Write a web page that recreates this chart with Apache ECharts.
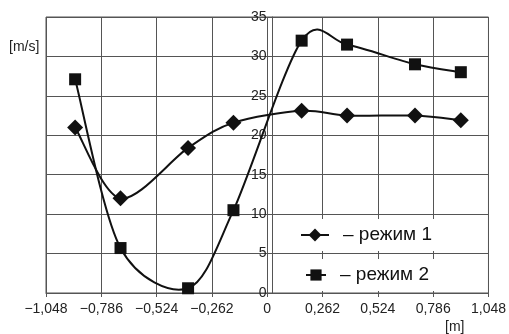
<!DOCTYPE html>
<html>
<head>
<meta charset="utf-8">
<script src="https://cdn.jsdelivr.net/npm/echarts@6/dist/echarts.min.js"></script>
<style>
  html, body { margin: 0; padding: 0; background: #fff; }
  #chart { width: 509px; height: 334px; }
</style>
</head>
<body>
<div id="chart"></div>
<script>
    // positions along the axis [m]
    var xPos = [-0.91, -0.695, -0.375, -0.16, 0.163, 0.378, 0.70, 0.917];
    // speed [m/s]
    var mode1 = [21.0, 12.0, 18.4, 21.6, 23.1, 22.5, 22.5, 21.9];
    var mode2 = [27.1, 5.7, 0.6, 10.5, 32.0, 31.5, 29.0, 28.0];
    var seriesNames = ['режим 1', 'режим 2'];

    function pairs(xs, ys) {
        var out = [];
        for (var i = 0; i < xs.length; i++) out.push([xs[i], ys[i]]);
        return out;
    }

    function fmtX(v) {
        if (Math.abs(v) < 1e-9) return '0';
        var s = Math.abs(v).toFixed(3).replace('.', ',');
        return (v < 0 ? '\u2212' : '') + s;
    }

    // spreadsheet-style smoothed line (catmull-rom through pixel coords)
    var tens = 6.5;
    function smoothCurve(ys) {
        return function (params, api) {
            if (params.dataIndex !== 0) return;
            var p = [];
            for (var i = 0; i < xPos.length; i++) p.push(api.coord([xPos[i], ys[i]]));
            var n = p.length, kids = [];
            for (var i = 0; i < n - 1; i++) {
                var a = p[Math.max(i - 1, 0)], b = p[i], c = p[i + 1], d = p[Math.min(i + 2, n - 1)];
                kids.push({
                    type: 'bezierCurve',
                    shape: {
                        x1: b[0], y1: b[1], x2: c[0], y2: c[1],
                        cpx1: b[0] + (c[0] - a[0]) / tens, cpy1: b[1] + (c[1] - a[1]) / tens,
                        cpx2: c[0] - (d[0] - b[0]) / tens, cpy2: c[1] - (d[1] - b[1]) / tens
                    },
                    style: { stroke: '#111', lineWidth: 2, fill: null }
                });
            }
            return { type: 'group', children: kids };
        };
    }

    var gridColor = '#555';
    var font = 'Liberation Sans, Arial, sans-serif';
    var gridW = 509 - 46 - 10;

    var legendBase = {
        backgroundColor: '#fff',
        padding: [6, 6, 6, 8],
        lineStyle: { opacity: 1, width: 2, color: '#111' },
        formatter: function (n) { return '\u2013 ' + n; },
        textStyle: { fontSize: 19, fontFamily: font, color: '#111', padding: [0, 0, 0, 9], lineHeight: 20 }
    };

    var myChart = echarts.init(document.getElementById('chart'));
    var option = {
        animation: false,
        backgroundColor: '#fff',
        grid: {
            left: 46, right: 10, top: 17, bottom: 41,
            show: true, borderColor: gridColor, borderWidth: 1
        },
        xAxis: {
            type: 'value',
            min: -1.048, max: 1.048, interval: 0.262,
            axisLine: { onZero: false, lineStyle: { color: gridColor } },
            axisTick: { show: true, length: 4, lineStyle: { color: gridColor } },
            splitLine: { lineStyle: { color: gridColor, width: 1 } },
            axisLabel: { formatter: fmtX, color: '#222', fontSize: 14, fontFamily: font, margin: 9 }
        },
        yAxis: {
            type: 'value',
            position: 'left',
            offset: -gridW / 2,   // axis sits at x = 0
            min: 0, max: 35, interval: 5,
            axisLine: { onZero: false, lineStyle: { color: gridColor } },
            axisTick: { show: true, length: 4, lineStyle: { color: gridColor } },
            splitLine: { lineStyle: { color: gridColor, width: 1 } },
            axisLabel: { color: '#222', fontSize: 14, fontFamily: font, margin: 6 }
        },
        legend: [
            Object.assign({ data: [seriesNames[0]], left: 292, top: 219, itemWidth: 28, itemHeight: 16 }, legendBase),
            Object.assign({ data: [seriesNames[1]], left: 297, top: 259, itemWidth: 20, itemHeight: 14 }, legendBase)
        ],
        graphic: [
            { type: 'text', left: 9, top: 40, style: { text: '[m/s]', fontSize: 14, fontFamily: font, fill: '#222' } },
            { type: 'text', left: 445, top: 320, style: { text: '[m]', fontSize: 14, fontFamily: font, fill: '#222' } }
        ],
        series: [
            {
                type: 'custom', z: 1, silent: true,
                data: [[0, 0]],
                renderItem: smoothCurve(mode1)
            },
            {
                type: 'custom', z: 1, silent: true,
                data: [[0, 0]],
                renderItem: smoothCurve(mode2)
            },
            {
                name: seriesNames[0],
                type: 'line', z: 3,
                data: pairs(xPos, mode1),
                symbol: 'diamond',
                symbolSize: 16,
                itemStyle: { color: '#111' },
                lineStyle: { color: '#111', width: 2, opacity: 0 }
            },
            {
                name: seriesNames[1],
                type: 'line', z: 3,
                data: pairs(xPos, mode2),
                symbol: 'rect',
                symbolSize: 12,
                itemStyle: { color: '#111' },
                lineStyle: { color: '#111', width: 2, opacity: 0 }
            }
        ]
    };
    myChart.setOption(option);
</script>
</body>
</html>
